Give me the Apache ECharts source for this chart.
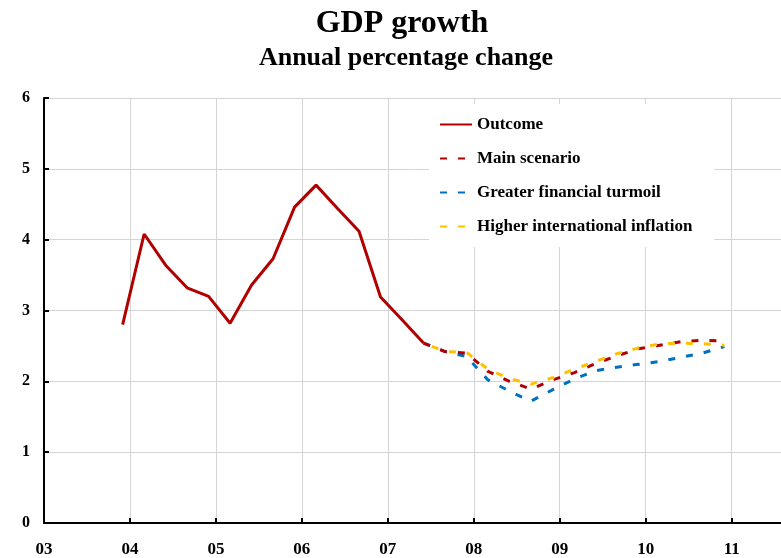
<!DOCTYPE html>
<html>
<head>
<meta charset="utf-8">
<script src="https://cdn.jsdelivr.net/npm/echarts@6/dist/echarts.min.js"></script>
<style>html,body{margin:0;padding:0;background:#fff;}#c{width:781px;height:558px;}</style>
</head>
<body>
<div id="c"></div>
<script>
// ---- data ----
const yearLabels = ['03','04','05','06','07','08','09','10','11'];
const outcomeQuarters = ['2003Q4','2004Q1','2004Q2','2004Q3','2004Q4','2005Q1','2005Q2','2005Q3','2005Q4','2006Q1','2006Q2','2006Q3','2006Q4','2007Q1','2007Q2'];
const outcomeValues = [2.80, 4.08, 3.64, 3.32, 3.20, 2.82, 3.36, 3.73, 4.46, 4.77, 4.44, 4.12, 3.19, 2.87, 2.54];
const forecastQuarters = ['2007Q2','2007Q3','2007Q4','2008Q1','2008Q2','2008Q3','2008Q4','2009Q1','2009Q2','2009Q3','2009Q4','2010Q1','2010Q2','2010Q3','2010Q4'];
const mainScenario = [2.54, 2.42, 2.40, 2.14, 2.00, 1.89, 2.02, 2.12, 2.25, 2.36, 2.46, 2.51, 2.56, 2.58, 2.57];
const financialTurmoil = [2.54, 2.42, 2.35, 2.02, 1.86, 1.72, 1.88, 2.03, 2.15, 2.20, 2.24, 2.28, 2.34, 2.40, 2.49];
const higherInflation = [2.54, 2.42, 2.41, 2.17, 2.04, 1.96, 2.05, 2.17, 2.28, 2.39, 2.47, 2.53, 2.54, 2.53, 2.51];
const yTicks = [0, 1, 2, 3, 4, 5, 6];

// ---- helpers ----
function qPos(q) { // quarter label -> position on the year axis
  const y = parseInt(q.slice(0, 4), 10);
  const n = parseInt(q.slice(5), 10);
  return y + (n - 1) * 0.25 + 0.165;
}
function pairs(qs, vs) { return qs.map((q, i) => [qPos(q), vs[i]]); }

const FONT = 'Liberation Serif';
const RED = '#B00000', BLUE = '#0070C0', YELLOW = '#FFC000';
const DASH = [7, 11];

const chart = echarts.init(document.getElementById('c'), null, {renderer: 'canvas'});
chart.setOption({
  animation: false,
  backgroundColor: '#fff',
  title: [
    {text: 'GDP growth', left: 402, top: 8, textAlign: 'center', padding: 0,
     textStyle: {fontFamily: FONT, fontWeight: 'bold', fontSize: 32, color: '#000'}},
    {text: 'Annual percentage change', left: 406, top: 45, textAlign: 'center', padding: 0,
     textStyle: {fontFamily: FONT, fontWeight: 'bold', fontSize: 26, color: '#000'}}
  ],
  legend: {
    orient: 'vertical', left: 429, top: 104,
    backgroundColor: '#fff', padding: [12, 22, 12, 10],
    itemWidth: 32, itemHeight: 14, itemGap: 17,
    itemStyle: {opacity: 0},
    data: [
      {name: 'Outcome'},
      {name: 'Main scenario'},
      {name: 'Greater financial turmoil'},
      {name: 'Higher international inflation', lineStyle: {dashOffset: 0}}
    ],
    textStyle: {fontFamily: FONT, fontWeight: 'bold', fontSize: 17, color: '#000'}
  },
  grid: {left: 44, right: 0, top: 98, bottom: 35, containLabel: false},
  xAxis: {
    type: 'value', min: 2003, max: 2011.574, interval: 1,
    axisLine: {lineStyle: {color: '#000', width: 2}},
    axisTick: {inside: true, length: 5, lineStyle: {color: '#000', width: 2}},
    axisLabel: {showMaxLabel: false, margin: 18, fontFamily: FONT, fontWeight: 'bold', fontSize: 17, color: '#000',
      formatter: v => yearLabels[Math.round(v) - 2003] || ''},
    splitLine: {show: true, lineStyle: {color: '#d4d4d4', width: 1}}
  },
  yAxis: {
    type: 'value', min: yTicks[0], max: yTicks[yTicks.length - 1], interval: 1,
    axisLine: {show: true, lineStyle: {color: '#000', width: 2}},
    axisTick: {show: true, inside: true, length: 5, lineStyle: {color: '#000', width: 2}},
    axisLabel: {margin: 14, fontFamily: FONT, fontWeight: 'bold', fontSize: 16, color: '#000'},
    splitLine: {show: true, lineStyle: {color: '#d4d4d4', width: 1}}
  },
  series: [
    {name: 'Outcome', type: 'line', data: pairs(outcomeQuarters, outcomeValues), symbol: 'none',
     lineStyle: {color: RED, width: 3}, itemStyle: {color: RED}, z: 5},
    {name: 'Greater financial turmoil', type: 'line', data: pairs(forecastQuarters, financialTurmoil), symbol: 'none',
     lineStyle: {color: BLUE, width: 3, type: DASH}, itemStyle: {color: BLUE}, z: 2},
    {name: 'Main scenario', type: 'line', data: pairs(forecastQuarters, mainScenario), symbol: 'none',
     lineStyle: {color: RED, width: 3, type: DASH}, itemStyle: {color: RED}, z: 3},
    {name: 'Higher international inflation', type: 'line', data: pairs(forecastQuarters, higherInflation), symbol: 'none',
     lineStyle: {color: YELLOW, width: 3, type: DASH, dashOffset: 9}, itemStyle: {color: YELLOW}, z: 4}
  ]
});
</script>
</body>
</html>
